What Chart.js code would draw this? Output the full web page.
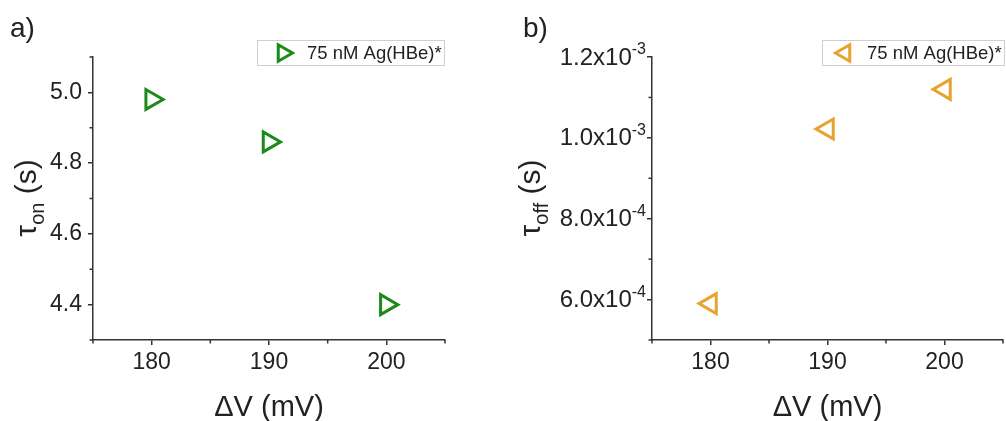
<!DOCTYPE html>
<html>
<head>
<meta charset="utf-8">
<script src="https://cdn.jsdelivr.net/npm/chart.js@4.4.0/dist/chart.umd.min.js"></script>
<style>
html, body { margin: 0; padding: 0; background: #fff; }
#wrap { position: relative; width: 1006px; height: 421px; }
canvas { position: absolute; top: 0; }
</style>
</head>
<body>
<div id="wrap">
  <canvas id="chartOn" width="503" height="421" style="left:0"></canvas>
  <canvas id="chartOff" width="503" height="421" style="left:503px"></canvas>
</div>
<script>
// data
const voltage = [180, 190, 200];          // ΔV (mV)
const tauOn = [4.98, 4.86, 4.40];         // τon (s)
const tauOff = [5.9e-4, 1.022e-3, 1.12e-3]; // τoff (s)
const seriesLabel = '75 nM Ag(HBe)*';

// ticks
const xTicks = [180, 190, 200];
const xMinor = [175, 185, 195, 205];
const onTicks = [4.4, 4.6, 4.8, 5.0];
const onMinor = [4.3, 4.5, 4.7, 4.9, 5.1];
const offTicks = [6e-4, 8e-4, 1e-3, 1.2e-3];
const offMinor = [5e-4, 7e-4, 9e-4, 1.1e-3];

const FONT = "'Liberation Sans', Arial, sans-serif";
const AXIS = '#333';
const TEXT = '#222';
const GREEN = '#1b8a1b';
const ORANGE = '#e6a42e';

Chart.defaults.font.family = FONT;
Chart.defaults.color = TEXT;

function triangle(ctx, x, y, r, deg) {
    const rad = deg * Math.PI / 180;
    ctx.beginPath();
    for (let i = 0; i < 3; i++) {
        const a = rad + i * 2 * Math.PI / 3;
        const px = x + Math.sin(a) * r, py = y - Math.cos(a) * r;
        if (i) ctx.lineTo(px, py); else ctx.moveTo(px, py);
    }
    ctx.closePath();
    ctx.stroke();
}

// panel label, y title with subscript, legend box, minor ticks, custom y labels
const decor = {
    id: 'decor',
    afterDraw(chart, args, o) {
        const ctx = chart.ctx;
        const xs = chart.scales.x, ys = chart.scales.y;
        const ca = chart.chartArea;
        ctx.save();

        // minor ticks
        ctx.strokeStyle = AXIS;
        ctx.lineWidth = 1.5;
        o.xMinor.forEach(v => {
            const px = xs.getPixelForValue(v);
            ctx.beginPath(); ctx.moveTo(px, ca.bottom); ctx.lineTo(px, ca.bottom + 3.5); ctx.stroke();
        });
        o.yMinor.forEach(v => {
            const py = ys.getPixelForValue(v);
            ctx.beginPath(); ctx.moveTo(ca.left, py); ctx.lineTo(ca.left - 3.5, py); ctx.stroke();
        });

        // scientific y labels
        if (o.sciTicks) {
            ctx.fillStyle = TEXT;
            ctx.textBaseline = 'middle';
            o.sciTicks.forEach(v => {
                const exp = Math.floor(Math.log10(v) + 1e-9);
                const mant = (v / Math.pow(10, exp)).toFixed(1) + 'x10';
                const py = ys.getPixelForValue(v);
                ctx.font = '16px ' + FONT;
                const we = ctx.measureText('-' + Math.abs(exp)).width;
                const right = ca.left - 6;
                ctx.textAlign = 'right';
                ctx.fillText('-' + Math.abs(exp), right, py - 7);
                ctx.font = '24px ' + FONT;
                ctx.fillText(mant, right - we, py + 1);
            });
        }

        // panel letter
        ctx.fillStyle = TEXT;
        ctx.textAlign = 'left';
        ctx.textBaseline = 'alphabetic';
        ctx.font = '28px ' + FONT;
        ctx.fillText(o.panel, o.panelX, 37);

        // y title: τ with subscript, rotated
        ctx.save();
        ctx.translate(o.titleX, 198);
        ctx.rotate(-Math.PI / 2);
        ctx.font = '30px ' + FONT;
        const w1 = ctx.measureText('τ').width;
        const w3 = ctx.measureText(' (s)').width;
        ctx.font = '20px ' + FONT;
        const w2 = ctx.measureText(o.sub).width;
        let x0 = -(w1 + w2 + w3) / 2;
        ctx.font = '30px ' + FONT;
        ctx.fillText('τ', x0, 0);
        ctx.font = '20px ' + FONT;
        ctx.fillText(o.sub, x0 + w1, 8);
        ctx.font = '30px ' + FONT;
        ctx.fillText(' (s)', x0 + w1 + w2, 0);
        ctx.restore();

        // legend
        const L = o.legend;
        const ds = chart.data.datasets[0];
        ctx.fillStyle = '#fff';
        ctx.fillRect(L.x, L.y, L.w, L.h);
        ctx.strokeStyle = '#cfcfcf';
        ctx.lineWidth = 1;
        ctx.strokeRect(L.x + 0.5, L.y + 0.5, L.w - 1, L.h - 1);
        ctx.strokeStyle = ds.pointBorderColor;
        ctx.lineWidth = 3;
        ctx.lineJoin = 'miter';
        triangle(ctx, L.x + L.mx, L.y + L.h / 2, 9.5, ds.pointRotation);
        ctx.fillStyle = TEXT;
        ctx.font = '18.5px ' + FONT;
        ctx.textBaseline = 'middle';
        ctx.fillText(ds.label, L.x + L.tx, L.y + L.h / 2 + 1);

        ctx.restore();
    }
};

function makeChart(id, values, color, rotation, yMin, yMax, yTicks, yWidth, padRight, deco) {
    return new Chart(document.getElementById(id), {
        type: 'scatter',
        data: {
            datasets: [{
                label: seriesLabel,
                data: voltage.map((v, i) => ({ x: v, y: values[i] })),
                pointStyle: 'triangle',
                pointRotation: rotation,
                pointRadius: 11.5,
                pointHoverRadius: 11.5,
                pointBorderWidth: 3,
                pointBorderColor: color,
                pointBackgroundColor: 'rgba(0,0,0,0)',
                showLine: false
            }]
        },
        options: {
            responsive: false,
            animation: false,
            devicePixelRatio: 1,
            layout: { autoPadding: false, padding: { left: 0, right: padRight, top: 57, bottom: 0 } },
            plugins: {
                legend: { display: false },
                tooltip: { enabled: false },
                decor: deco
            },
            scales: {
                x: {
                    type: 'linear',
                    min: 175, max: 205,
                    afterBuildTicks: s => { s.ticks = xTicks.map(v => ({ value: v })); },
                    afterFit: s => { s.height = 81; s.paddingLeft = 0; s.paddingRight = 0; },
                    grid: { drawOnChartArea: false, tickLength: 5, color: AXIS, lineWidth: 1.5 },
                    border: { display: true, color: AXIS, width: 1.5 },
                    ticks: { font: { size: 23 }, color: TEXT, padding: 4, maxRotation: 0 },
                    title: { display: true, text: 'ΔV (mV)', font: { size: 29 }, color: TEXT, padding: { top: 0, bottom: -4 } }
                },
                y: {
                    type: 'linear',
                    min: yMin, max: yMax,
                    afterBuildTicks: s => { s.ticks = yTicks.map(v => ({ value: v })); },
                    afterFit: s => { s.width = yWidth; s.paddingTop = 0; s.paddingBottom = 0; },
                    grid: { drawOnChartArea: false, tickLength: 5, color: AXIS, lineWidth: 1.5 },
                    border: { display: true, color: AXIS, width: 1.5 },
                    ticks: {
                        display: !deco.sciTicks,
                        font: { size: 23 }, color: TEXT, padding: 6,
                        callback: v => v.toFixed(1)
                    }
                }
            }
        },
        plugins: [decor]
    });
}

makeChart('chartOn', tauOn, GREEN, 90, 4.3, 5.1, onTicks, 93, 58, {
    panel: 'a)', panelX: 10, titleX: 36, sub: 'on',
    xMinor: xMinor, yMinor: onMinor,
    legend: { x: 257, y: 40, w: 188, h: 26, mx: 26, tx: 50 }
});

makeChart('chartOff', tauOff, ORANGE, -90, 5e-4, 1.2e-3, offTicks, 149, 3, {
    panel: 'b)', panelX: 20, titleX: 37, sub: 'off',
    xMinor: xMinor, yMinor: offMinor, sciTicks: offTicks,
    legend: { x: 319, y: 40, w: 183, h: 26, mx: 23, tx: 45 }
});
</script>
</body>
</html>
